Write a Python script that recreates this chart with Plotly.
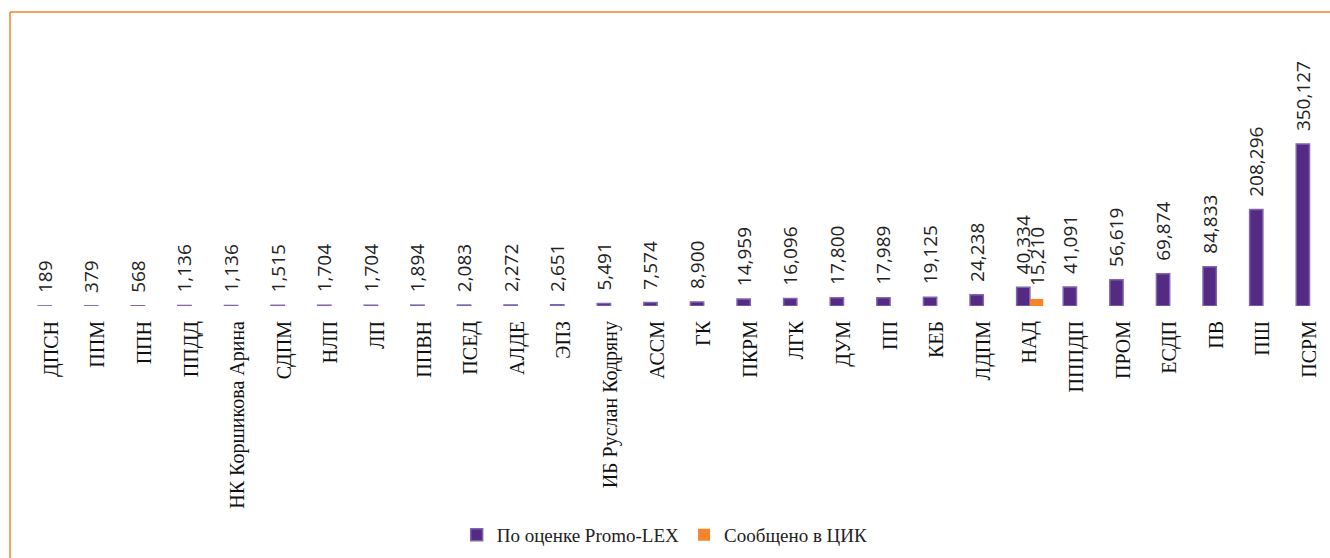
import plotly.graph_objects as go

categories = ["ДПСН", "ППМ", "ППН", "ППДД", "НК Коршикова Арина", "СДПМ", "НЛП", "ЛП",
              "ППВН", "ПСЕД", "АЛДЕ", "ЭПЗ", "ИБ Руслан Кодряну", "АССМ", "ГК", "ПКРМ",
              "ЛГК", "ДУМ", "ПП", "КЕБ", "ЛДПМ", "НАД", "ПППДП", "ПРОМ", "ЕСДП", "ПВ",
              "ПШ", "ПСРМ"]
promo_lex = [189, 379, 568, 1136, 1136, 1515, 1704, 1704, 1894, 2083, 2272, 2651, 5491,
             7574, 8900, 14959, 16096, 17800, 17989, 19125, 24238, 40334, 41091, 56619,
             69874, 84833, 208296, 350127]
cik = [None] * 21 + [15210] + [None] * 6

series_names = ["По оценке Promo-LEX", "Сообщено в ЦИК"]
PURPLE = "#542A83"
ORANGE = "#F7832B"
PAD = "\u00a0\u00a0"

def fmt(v):
    return None if v is None else PAD + f"{v:,}"

label_font = dict(family="Open Sans", size=19, color="#222222")

fig = go.Figure()
fig.add_trace(go.Bar(
    x=categories, y=promo_lex, name=series_names[0],
    marker=dict(color=PURPLE, line=dict(color="#8066B0", width=1.5)),
    text=[fmt(v) for v in promo_lex], textposition="outside", textangle=-90,
    constraintext="none", cliponaxis=False, textfont=label_font,
))
fig.add_trace(go.Bar(
    x=categories, y=cik, name=series_names[1],
    marker=dict(color=ORANGE, line=dict(color=ORANGE, width=0)),
    text=[fmt(v) for v in cik], textposition="outside", textangle=-90,
    constraintext="none", cliponaxis=False, textfont=label_font,
))

W, H = 1330, 558
L, R, T, B = 28, 0, 20, 252
plot_h = H - T - B
ymax = 350127 * plot_h / 162

fig.update_layout(
    width=W, height=H,
    margin=dict(l=L, r=R, t=T, b=B),
    barmode="group", bargap=0.43, bargroupgap=0,
    plot_bgcolor="white", paper_bgcolor="white",
    showlegend=True,
    legend=dict(orientation="h", x=0.489, xanchor="center",
                y=(306 - 535) / plot_h, yanchor="middle",
                font=dict(family="Liberation Serif", size=19, color="#222222"),
                itemwidth=30, traceorder="normal"),
    xaxis=dict(range=[-0.5, 27.44], tickangle=-90, showline=False, ticks="",
               tickfont=dict(family="Liberation Serif", size=20, color="#111111"),
               ticklabelstandoff=10, showgrid=False),
    yaxis=dict(range=[0, ymax], visible=False, showgrid=False),
    shapes=[
        dict(type="line", xref="paper", yref="paper",
             x0=(10 - L) / (W - L - R), x1=1.05,
             y0=(H - B - 12) / plot_h, y1=(H - B - 12) / plot_h,
             line=dict(color=ORANGE, width=1.5)),
        dict(type="line", xref="paper", yref="paper",
             x0=(10 - L) / (W - L - R), x1=(10 - L) / (W - L - R),
             y0=(H - B - 12) / plot_h, y1=-1.2,
             line=dict(color=ORANGE, width=1.5)),
    ],
)

fig.write_html("out.html", config={"displayModeBar": False},
               post_script="document.body.style.margin='0';")
